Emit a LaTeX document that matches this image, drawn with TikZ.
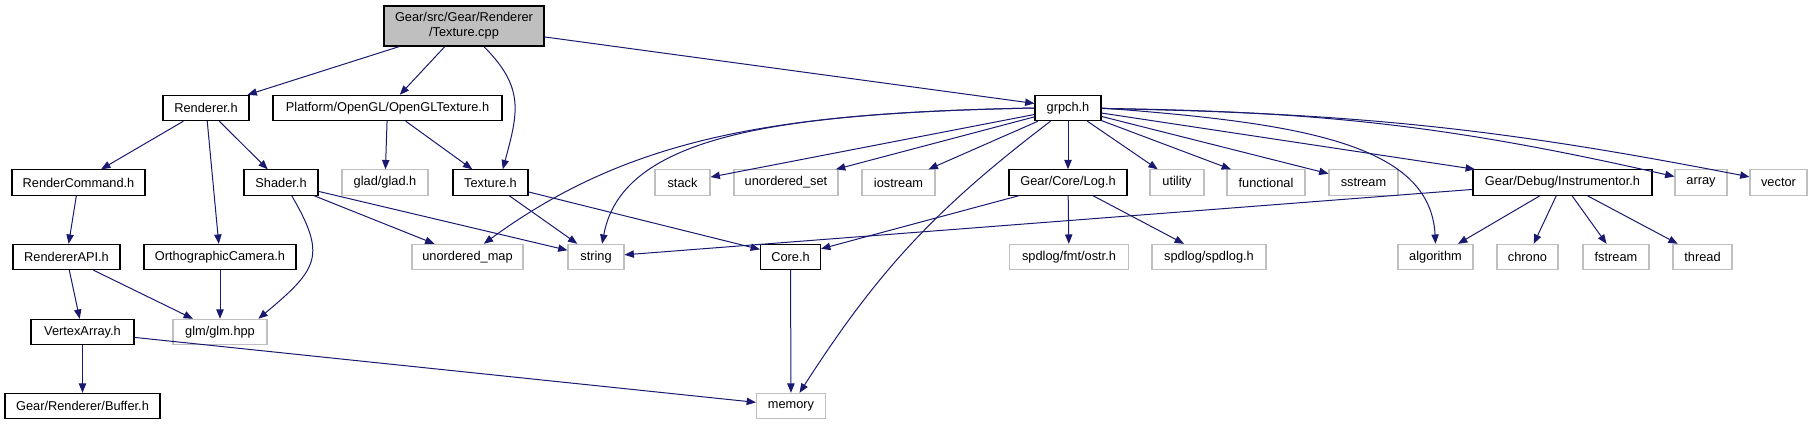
\documentclass[tikz,border=0pt]{standalone}
\usepackage{fontspec}
\setmainfont{Liberation Sans}
\usepackage{tikz}
\usetikzlibrary{arrows.meta}
\definecolor{dgnavy}{RGB}{25, 25, 112}
\definecolor{dggray}{RGB}{191, 191, 191}
\definecolor{dgfill}{RGB}{191, 191, 191}

\begin{document}
\begin{tikzpicture}[x=0.75pt, y=0.75pt, font=\fontsize{9.6}{11}\selectfont,
  hdr/.style={draw=black, line width=0.8pt, minimum height=19pt, inner sep=0pt},
  sys/.style={draw=dggray, line width=0.8pt, minimum height=19pt, inner sep=0pt},
  dep/.style={dgnavy, line width=0.75pt, -{Triangle[length=7pt, width=5.5pt]}}]
\useasboundingbox (0,0) rectangle (1812,-425);
% Source file
\node[hdr, fill=dgfill, minimum width=120pt, minimum height=30pt, align=center] (cpp) at (464,-26) {Gear/src/Gear/Renderer\\/Texture.cpp};
% First level
\node[hdr, minimum width=64.5pt] (rendererh) at (206,-108) {Renderer.h};
\node[hdr, minimum width=171.75pt] (ogltex) at (387.5,-108) {Platform/OpenGL/OpenGLTexture.h};
\node[hdr, minimum width=49.5pt] (grpch) at (1068,-108) {grpch.h};
% Second level
\node[hdr, minimum width=99.75pt] (rcmd) at (78.5,-182.5) {RenderCommand.h};
\node[hdr, minimum width=55.5pt] (shader) at (281,-182.5) {Shader.h};
\node[sys, minimum width=64.5pt] (glad) at (385,-182.5) {glad/glad.h};
\node[hdr, minimum width=56.25pt] (texh) at (490.5,-182.5) {Texture.h};
\node[sys, minimum width=41.25pt] (stack) at (682.5,-182.5) {stack};
\node[sys, minimum width=78pt] (uset) at (786,-182.5) {unordered\_set};
\node[sys, minimum width=54.75pt] (iostream) at (898.5,-182.5) {iostream};
\node[hdr, minimum width=88.5pt] (logh) at (1068,-182.5) {Gear/Core/Log.h};
\node[sys, minimum width=40.5pt] (utility) at (1177,-182.5) {utility};
\node[sys, minimum width=58.5pt] (functional) at (1266,-182.5) {functional};
\node[sys, minimum width=51.75pt] (sstream) at (1363.5,-182.5) {sstream};
\node[hdr, minimum width=134.25pt] (instr) at (1562.5,-182.5) {Gear/Debug/Instrumentor.h};
\node[sys, minimum width=39pt] (array) at (1701,-182.5) {array};
\node[sys, minimum width=42.75pt] (vector) at (1778.5,-182.5) {vector};
% Third level
\node[hdr, minimum width=80.25pt] (rapi) at (66.5,-257) {RendererAPI.h};
\node[hdr, minimum width=114pt] (ortho) at (220,-257) {OrthographicCamera.h};
\node[sys, minimum width=83.25pt] (umap) at (467.5,-257) {unordered\_map};
\node[sys, minimum width=42pt] (string) at (596,-257) {string};
\node[hdr, minimum width=45pt] (core) at (790.5,-257) {Core.h};
\node[sys, minimum width=89.25pt] (ostr) at (1069,-257) {spdlog/fmt/ostr.h};
\node[sys, minimum width=85.5pt] (spdlog) at (1209,-257) {spdlog/spdlog.h};
\node[sys, minimum width=56.25pt] (algorithm) at (1435.5,-257) {algorithm};
\node[sys, minimum width=45.75pt] (chrono) at (1527.5,-257) {chrono};
\node[sys, minimum width=49.5pt] (fstream) at (1616,-257) {fstream};
\node[sys, minimum width=44.25pt] (thread) at (1702.5,-257) {thread};
% Fourth and fifth level
\node[hdr, minimum width=77.25pt] (varray) at (82.5,-332) {VertexArray.h};
\node[sys, minimum width=70.5pt] (glm) at (220,-332) {glm/glm.hpp};
\node[hdr, minimum width=116.25pt] (buffer) at (82.5,-406) {Gear/Renderer/Buffer.h};
\node[sys, minimum width=51.75pt] (memory) at (791,-406) {memory};
% Includes of the source file
\draw[dep] (cpp) -- (rendererh);
\draw[dep] (cpp) -- (ogltex);
\draw[dep] (cpp.-46) to[out=-45, in=75, looseness=1.2] (texh.47);
\draw[dep] (cpp) -- (grpch);
% Renderer side
\draw[dep] (rendererh) -- (rcmd);
\draw[dep] (rendererh) -- (ortho);
\draw[dep] (rendererh) -- (shader);
\draw[dep] (ogltex) -- (glad);
\draw[dep] (ogltex) -- (texh);
\draw[dep] (rcmd) -- (rapi);
\draw[dep] (rapi) -- (varray);
\draw[dep] (rapi) -- (glm);
\draw[dep] (ortho) -- (glm);
\draw[dep] (shader.-51) .. controls +(35,-60) and +(60,50) .. (glm.19);
\draw[dep] (shader) -- (umap);
\draw[dep] (shader) -- (string);
\draw[dep] (varray) -- (buffer);
\draw[dep] (varray) -- (memory);
\draw[dep] (texh) -- (string);
\draw[dep] (texh) -- (core);
% Precompiled header
\draw[dep] (grpch.west) .. controls +(-250,-5) and +(150,110) .. (umap.39);
\draw[dep] (grpch.west) .. controls +(-250,-5) and +(20,110) .. (string.65);
\draw[dep] (grpch) -- (stack);
\draw[dep] (grpch) -- (uset);
\draw[dep] (grpch) -- (iostream);
\draw[dep] (grpch) -- (logh);
\draw[dep] (grpch) -- (utility);
\draw[dep] (grpch) -- (functional);
\draw[dep] (grpch) -- (sstream);
\draw[dep] (grpch) -- (instr);
\draw[dep] (grpch) to[bend left=6] (array);
\draw[dep] (grpch) to[bend left=5] (vector);
\draw[dep] (grpch.east) .. controls +(200,-15) and +(-5,100) .. (algorithm.north);
\draw[dep] (grpch) to[bend right=10] (memory);
% Log and Instrumentor
\draw[dep] (logh) -- (core);
\draw[dep] (logh) -- (ostr);
\draw[dep] (logh) -- (spdlog);
\draw[dep] (core) -- (memory);
\draw[dep] (instr) -- (string);
\draw[dep] (instr) -- (algorithm);
\draw[dep] (instr) -- (chrono);
\draw[dep] (instr) -- (fstream);
\draw[dep] (instr) -- (thread);
\end{tikzpicture}
\end{document}
